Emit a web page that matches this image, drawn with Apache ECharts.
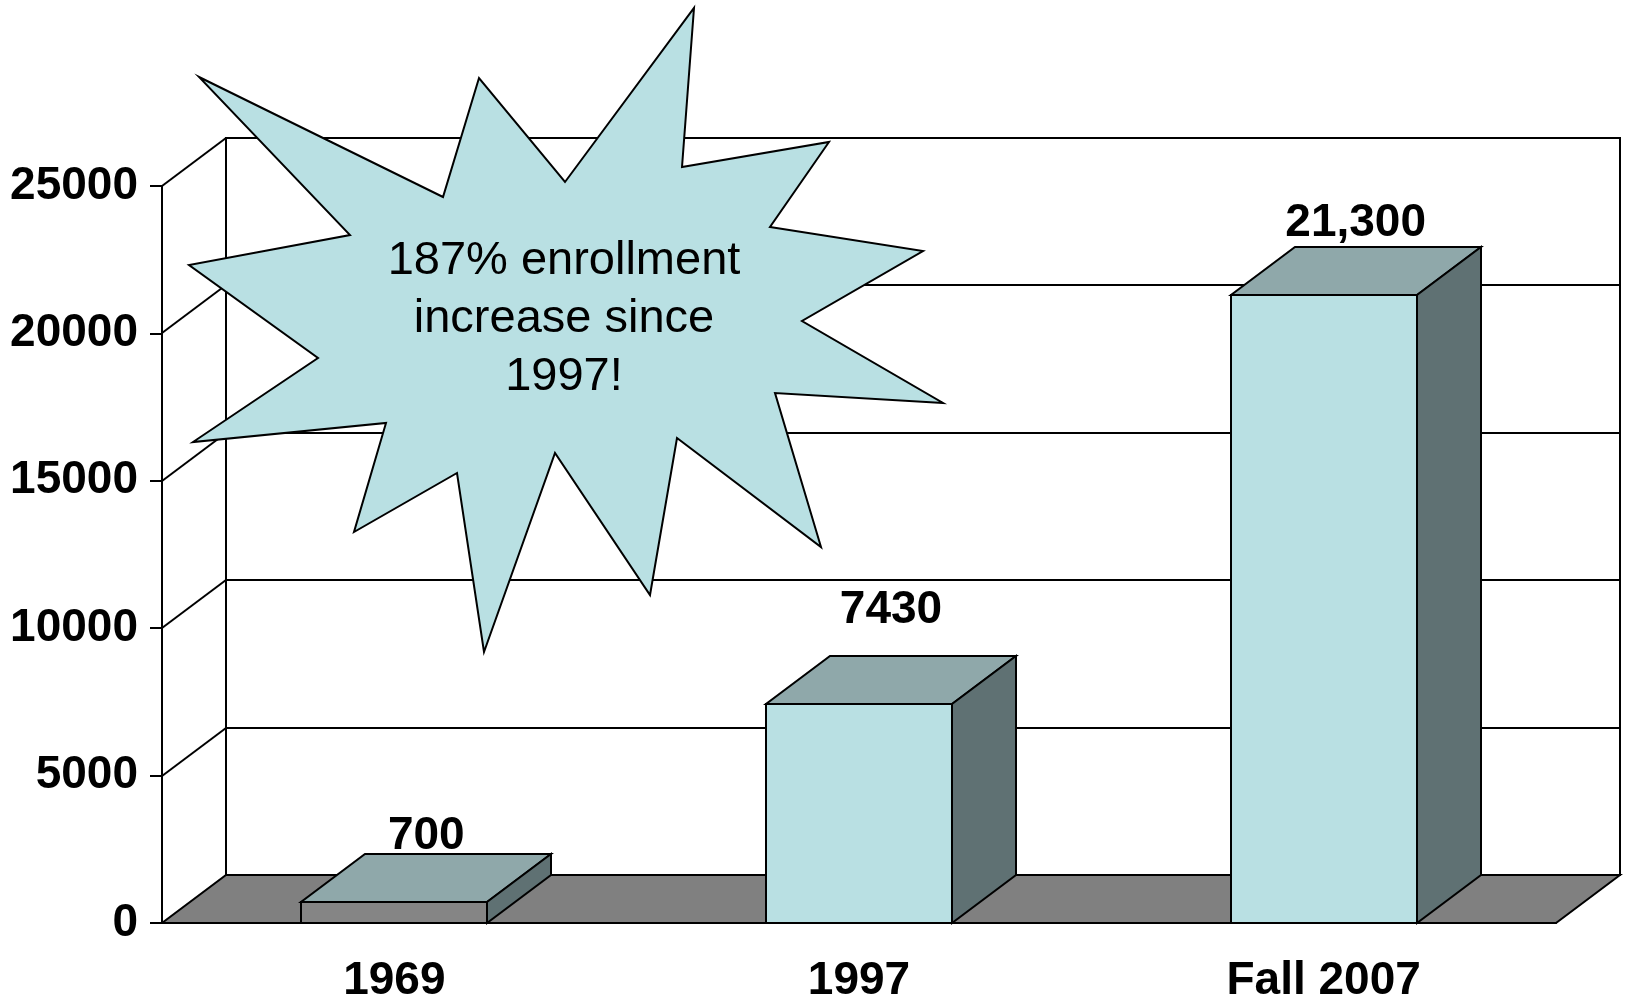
<!DOCTYPE html>
<html>
<head>
<meta charset="utf-8">
<script src="https://cdn.jsdelivr.net/npm/echarts@6/dist/echarts.min.js"></script>
<style>
  html, body { margin: 0; padding: 0; background: #fff; }
  #chart { width: 1627px; height: 1001px; }
</style>
</head>
<body>
<div id="chart"></div>
<script>
// data
const categories = ['1969', '1997', 'Fall 2007'];
const enrollment = [700, 7430, 21300];
const valueLabels = ['700', '7430', '21,300'];
const yTicks = [0, 5000, 10000, 15000, 20000, 25000];
const calloutLines = ['187% enrollment', 'increase since', '1997!'];

// look of the fake 3d box
const DX = 64;
const DY = -48;
const FONT = 'Liberation Sans, Arial, sans-serif';
const frontColors = ['#858585', '#B9E0E3', '#B9E0E3'];
const topColor = '#8FA8AA';
const sideColor = '#5F7173';
const floorColor = '#808080';
const labelLift = [18, 46, 24];

// starburst outline (annotation shape, not data)
const burst = [
  [694, 8], [682, 167], [829, 142], [770, 227], [923, 251], [802, 321],
  [943, 403], [775, 393], [821, 547], [677, 438], [650, 595], [555, 453],
  [484, 652], [457, 473], [354, 532], [386, 423], [193, 442], [318, 358],
  [189, 265], [350, 235], [199, 77], [443, 197], [479, 78], [565, 182]
];

const lineStyle = { stroke: '#000', lineWidth: 2, fill: null };
const r = Math.round;

function renderFrame(params, api) {
  const cs = params.coordSys;
  const x0 = r(cs.x);
  const x1 = r(cs.x + cs.width);
  const yb = r(api.coord([0, 0])[1]);
  const yTop = r(api.coord([0, yTicks[yTicks.length - 1]])[1]);
  const children = [];
  // back wall
  children.push({
    type: 'rect',
    shape: { x: x0 + DX, y: yTop + DY, width: x1 - x0, height: yb - yTop },
    style: { fill: '#fff', stroke: '#000', lineWidth: 2 }
  });
  yTicks.forEach(function (v) {
    if (v === 0) return;
    const yv = r(api.coord([0, v])[1]);
    children.push({
      type: 'line',
      shape: { x1: x0 + DX, y1: yv + DY, x2: x1 + DX, y2: yv + DY },
      style: lineStyle
    });
    children.push({
      type: 'line',
      shape: { x1: x0, y1: yv, x2: x0 + DX, y2: yv + DY },
      style: lineStyle
    });
  });
  // floor
  children.push({
    type: 'polygon',
    shape: { points: [[x0, yb], [x1, yb], [x1 + DX, yb + DY], [x0 + DX, yb + DY]] },
    style: { fill: floorColor, stroke: '#000', lineWidth: 2 }
  });
  return { type: 'group', children: children };
}

function renderBar(params, api) {
  const i = api.value(0);
  const top = api.coord([i, api.value(1)]);
  const base = api.coord([i, 0]);
  const w = r(api.size([1, 0])[0] * 0.4);
  const xl = r(top[0] - w / 2);
  const xr = xl + w;
  const yt = r(top[1]);
  const yb = r(base[1]);
  return {
    type: 'group',
    children: [
      {
        type: 'rect',
        shape: { x: xl, y: yt, width: w, height: yb - yt },
        style: { fill: frontColors[i], stroke: '#000', lineWidth: 2 }
      },
      {
        type: 'polygon',
        shape: { points: [[xl, yt], [xr, yt], [xr + DX, yt + DY], [xl + DX, yt + DY]] },
        style: { fill: topColor, stroke: '#000', lineWidth: 2 }
      },
      {
        type: 'polygon',
        shape: { points: [[xr, yt], [xr + DX, yt + DY], [xr + DX, yb + DY], [xr, yb]] },
        style: { fill: sideColor, stroke: '#000', lineWidth: 2 }
      },
      {
        type: 'text',
        style: {
          text: valueLabels[i],
          x: top[0] + DX / 2,
          y: yt + DY - labelLift[i],
          align: 'center',
          verticalAlign: 'middle',
          fontSize: 46,
          fontWeight: 'bold',
          fontFamily: FONT,
          fill: '#000'
        }
      }
    ]
  };
}

const chart = echarts.init(document.getElementById('chart'));
chart.setOption({
  backgroundColor: '#fff',
  animation: false,
  grid: { left: 162, top: 186, width: 1394, height: 737, outerBoundsMode: 'none', containLabel: false },
  xAxis: {
    type: 'category',
    data: categories,
    axisLine: { lineStyle: { color: '#000', width: 2 } },
    axisTick: { length: 12, lineStyle: { color: '#000', width: 2 } },
    axisLabel: { margin: 35, color: '#000', fontSize: 46, fontWeight: 'bold', fontFamily: FONT },
    splitLine: { show: false }
  },
  yAxis: {
    type: 'value',
    min: 0,
    max: 25000,
    interval: 5000,
    axisLine: { show: true, lineStyle: { color: '#000', width: 2 } },
    axisTick: { show: true, length: 12, lineStyle: { color: '#000', width: 2 } },
    axisLabel: {
      margin: 24,
      color: '#000',
      fontSize: 46,
      fontWeight: 'bold',
      fontFamily: FONT,
      formatter: function (v) { return String(v); }
    },
    splitLine: { show: false }
  },
  series: [
    {
      type: 'custom',
      name: 'frame',
      clip: false,
      silent: true,
      z: 1,
      renderItem: renderFrame,
      data: [[0, 0]]
    },
    {
      type: 'custom',
      name: 'Enrollment',
      clip: false,
      z: 3,
      renderItem: renderBar,
      encode: { x: 0, y: 1 },
      data: enrollment.map(function (v, i) { return [i, v]; })
    }
  ],
  graphic: [
    {
      type: 'polygon',
      z: 100,
      shape: { points: burst },
      style: { fill: '#B9E0E3', stroke: '#000', lineWidth: 2 }
    },
    {
      type: 'text',
      z: 101,
      style: {
        text: calloutLines.join('\n'),
        x: 564,
        y: 319,
        align: 'center',
        verticalAlign: 'middle',
        lineHeight: 58,
        fontSize: 47,
        fontFamily: FONT,
        fill: '#000'
      }
    }
  ]
});
</script>
</body>
</html>
